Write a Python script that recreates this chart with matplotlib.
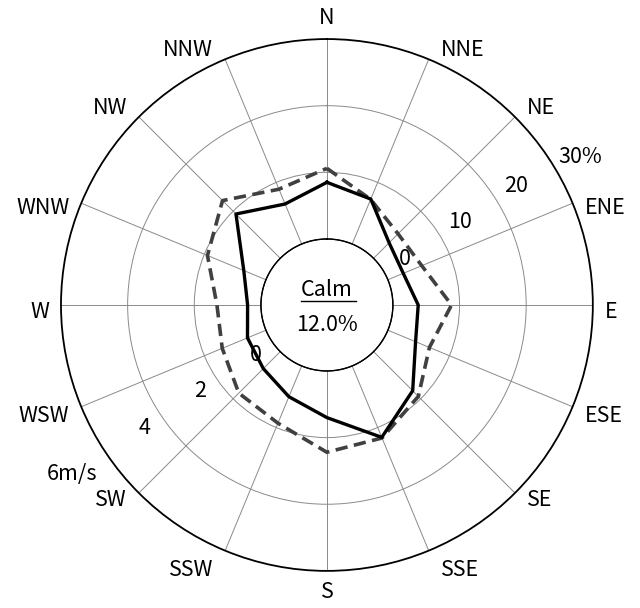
import numpy as np
import matplotlib.pyplot as plt
from matplotlib.transforms import offset_copy

plt.rcParams['font.family'] = ['Noto Sans CJK JP', 'DejaVu Sans']

# 16 wind directions, clockwise from north
directions = ['N', 'NNE', 'NE', 'ENE', 'E', 'ESE', 'SE', 'SSE',
              'S', 'SSW', 'SW', 'WSW', 'W', 'WNW', 'NW', 'NNW']
# frequency of occurrence (%) - solid line
frequency = [8.5, 7.3, 3.3, 2.5, 3.8, 4.5, 8.3, 11.6,
             7.0, 5.0, 3.6, 3.0, 2.0, 3.6, 9.4, 6.5]
# mean wind speed (m/s) - dashed line
mean_speed = [2.12, 1.45, 1.04, 1.1, 1.76, 1.35, 1.9, 2.34,
              2.44, 1.86, 1.76, 1.42, 1.32, 1.9, 2.45, 1.78]
calm = 12.0

freq_ticks = [0, 10, 20, 30]
freq_labels = ['0', '10', '20', '30%']
speed_ticks = [0, 2, 4, 6]
speed_labels = ['0', '2', '4', '6m/s']

speed_to_pct = 5.0  # 6 m/s drawn on the 30 % ring

angles = np.deg2rad(np.arange(len(directions)) * 22.5)
closed = np.append(angles, angles[0])

fig = plt.figure(figsize=(6.4, 6.08), dpi=100)
ax = fig.add_axes([0.0953, 0.0609, 0.831, 0.875], projection='polar')
ax.set_theta_zero_location('N')
ax.set_theta_direction(-1)
ax.set_ylim(0, 30)
ax.set_rorigin(-9.9)

# grid: spokes and rings
ax.set_xticks(angles)
ax.set_xticklabels([])
ax.set_yticks([10, 20])
ax.set_yticklabels([])
ax.grid(True, color='#8a8a8a', linewidth=0.7)
ax.spines['polar'].set_color('black')
ax.spines['polar'].set_linewidth(1.3)
for s in ['inner', 'start', 'end']:
    if s in ax.spines:
        ax.spines[s].set_visible(False)

# calm circle
ring = np.linspace(0, 2 * np.pi, 361)
ax.plot(ring, np.zeros_like(ring), color='black', linewidth=1.0, zorder=3, clip_on=False)

# direction labels, set beside the end of each spoke
vshift = {0: -21, 22.5: -9, 45: -9, 67.5: 5, 90: 7, 112.5: 9, 135: 7, 157.5: 19, 180: 21}
for i, name in enumerate(directions):
    deg = i * 22.5
    folded = deg if deg <= 180 else 360 - deg
    s = np.sin(np.deg2rad(deg))
    if abs(s) < 0.01:
        ha, dx = 'center', 0
    elif s > 0:
        ha, dx = 'left', 12
    else:
        ha, dx = 'right', -12
    ax.annotate(name, xy=(np.deg2rad(deg), 30), xytext=(dx, -vshift[folded]),
                textcoords='offset pixels', ha=ha, va='center', fontsize=15.5,
                annotation_clip=False)

# scale labels (drawn a little low, like the original font)
low = offset_copy(ax.transData, fig=fig, x=0, y=-4, units='dots')
for v, lab in zip(freq_ticks, freq_labels):
    off = 4.5 if lab.endswith('%') else 4.0
    a = 59 if lab.endswith('%') else 57
    ax.text(np.deg2rad(a), v + off, lab, ha='center', va='center', fontsize=15.5,
            zorder=2, clip_on=False, transform=low)

for v, lab in zip(speed_ticks, speed_labels):
    off = 5.7 if 'm' in lab else 2.8
    ax.text(np.deg2rad(237), v * speed_to_pct + off, lab, ha='center', va='center',
            fontsize=15.5, zorder=2, clip_on=False, transform=low)

# data lines
freq_closed = np.append(frequency, frequency[0])
speed_closed = np.append(mean_speed, mean_speed[0]) * speed_to_pct
ax.plot(closed, speed_closed, color='#404040', linewidth=2.6,
        linestyle=(0, (3.4, 1.8)), zorder=5)
ax.plot(closed, freq_closed, color='black', linewidth=2.4, zorder=6)

# calm text
ax.text(0.5, 0.528, 'Calm', transform=ax.transAxes, ha='center', va='center', fontsize=15.5)
ax.plot([0.451, 0.555], [0.508, 0.508], transform=ax.transAxes, color='black',
        linewidth=1.0, clip_on=False)
ax.text(0.5, 0.462, f'{calm:.1f}%', transform=ax.transAxes, ha='center', va='center',
        fontsize=15.5)

fig.savefig('out.png', dpi=100)
